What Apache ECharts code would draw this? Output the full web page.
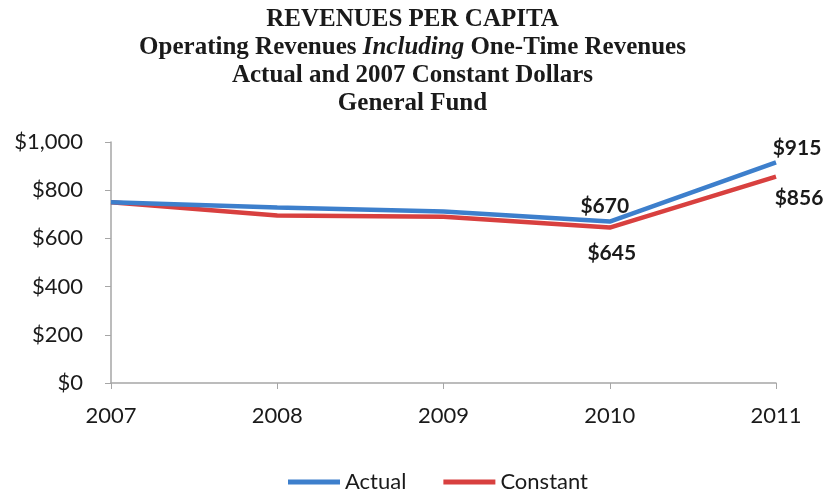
<!DOCTYPE html>
<html>
<head>
<meta charset="utf-8">
<script src="https://cdn.jsdelivr.net/npm/echarts@6/dist/echarts.min.js"></script>
<style>
  html, body { margin: 0; padding: 0; background: #fff; }
  #chart { width: 825px; height: 491px; }
</style>
</head>
<body>
<div id="chart"></div>
<script>
// Revenues per capita, General Fund
const years = ['2007', '2008', '2009', '2010', '2011'];
const actual = [750, 728, 712, 670, 915];
const constant = [750, 695, 690, 645, 856];
const yTicks = [0, 200, 400, 600, 800, 1000];

const BLUE = '#3d7fcc';
const RED = '#d8403f';
const TEXT = '#1a1a1a';
const UI_FONT = 'Lato, "Open Sans", sans-serif';

// Value labels appear only on the last two years
const actualLabels = { 3: { position: 'top', offset: [-5, 0] }, 4: { position: 'top', offset: [21, 1] } };
const constantLabels = { 3: { position: 'bottom', offset: [2, 10] }, 4: { position: 'bottom', offset: [23, 6] } };

function withLabels(values, labels) {
  return values.map((v, i) => {
    const l = labels[i];
    if (!l) return { value: v, label: { show: false } };
    return {
      value: v,
      label: {
        show: true,
        position: l.position,
        offset: l.offset,
        formatter: '$' + v,
        fontFamily: UI_FONT,
        fontWeight: 'bold',
        fontSize: 21,
        color: TEXT
      }
    };
  });
}

const chart = echarts.init(document.getElementById('chart'), null, { renderer: 'canvas' });
chart.setOption({
  animation: false,
  backgroundColor: '#fff',
  title: {
    left: 'center',
    top: 1,
    text: '{b|REVENUES PER CAPITA}\n{b|Operating Revenues }{i|Including}{b| One-Time Revenues}\n{b|Actual and 2007 Constant Dollars}\n{b|General Fund}',
    textStyle: {
      rich: {
        b: { fontFamily: '"Liberation Serif", serif', fontWeight: 'bold', fontSize: 25, lineHeight: 28, color: TEXT },
        i: { fontFamily: '"Liberation Serif", serif', fontWeight: 'bold', fontStyle: 'italic', fontSize: 25, lineHeight: 28, color: TEXT }
      }
    }
  },
  legend: {
    top: 466,
    left: 283,
    itemWidth: 52,
    itemHeight: 5,
    itemGap: 37,
    icon: 'rect',
    textStyle: { fontFamily: UI_FONT, fontSize: 22, color: TEXT, padding: [0, 0, 0, 0] },
    data: ['Actual', 'Constant']
  },
  grid: { left: 111, right: 49, top: 142, bottom: 108, containLabel: false },
  xAxis: {
    type: 'category',
    data: years,
    boundaryGap: false,
    axisLine: { lineStyle: { color: '#a6a6a6', width: 1.5 } },
    axisTick: { show: true, length: 6, lineStyle: { color: '#a6a6a6' } },
    axisLabel: { fontFamily: UI_FONT, fontSize: 22, color: TEXT, margin: 22 }
  },
  yAxis: {
    type: 'value',
    min: yTicks[0],
    max: yTicks[yTicks.length - 1],
    interval: 200,
    splitLine: { show: false },
    axisLine: { show: true, lineStyle: { color: '#a6a6a6', width: 1.5 } },
    axisTick: { show: true, length: 6, lineStyle: { color: '#a6a6a6' } },
    axisLabel: {
      fontFamily: UI_FONT, fontSize: 22, color: TEXT, margin: 28,
      formatter: v => '$' + v.toLocaleString('en-US')
    }
  },
  series: [
    {
      name: 'Actual',
      type: 'line',
      data: withLabels(actual, actualLabels),
      symbol: 'circle',
      symbolSize: 0,
      showSymbol: true,
      color: BLUE,
      lineStyle: { color: BLUE, width: 4.5 },
      z: 3
    },
    {
      name: 'Constant',
      type: 'line',
      data: withLabels(constant, constantLabels),
      symbol: 'circle',
      symbolSize: 0,
      showSymbol: true,
      color: RED,
      lineStyle: { color: RED, width: 4.5 },
      z: 2
    }
  ]
});
</script>
</body>
</html>
